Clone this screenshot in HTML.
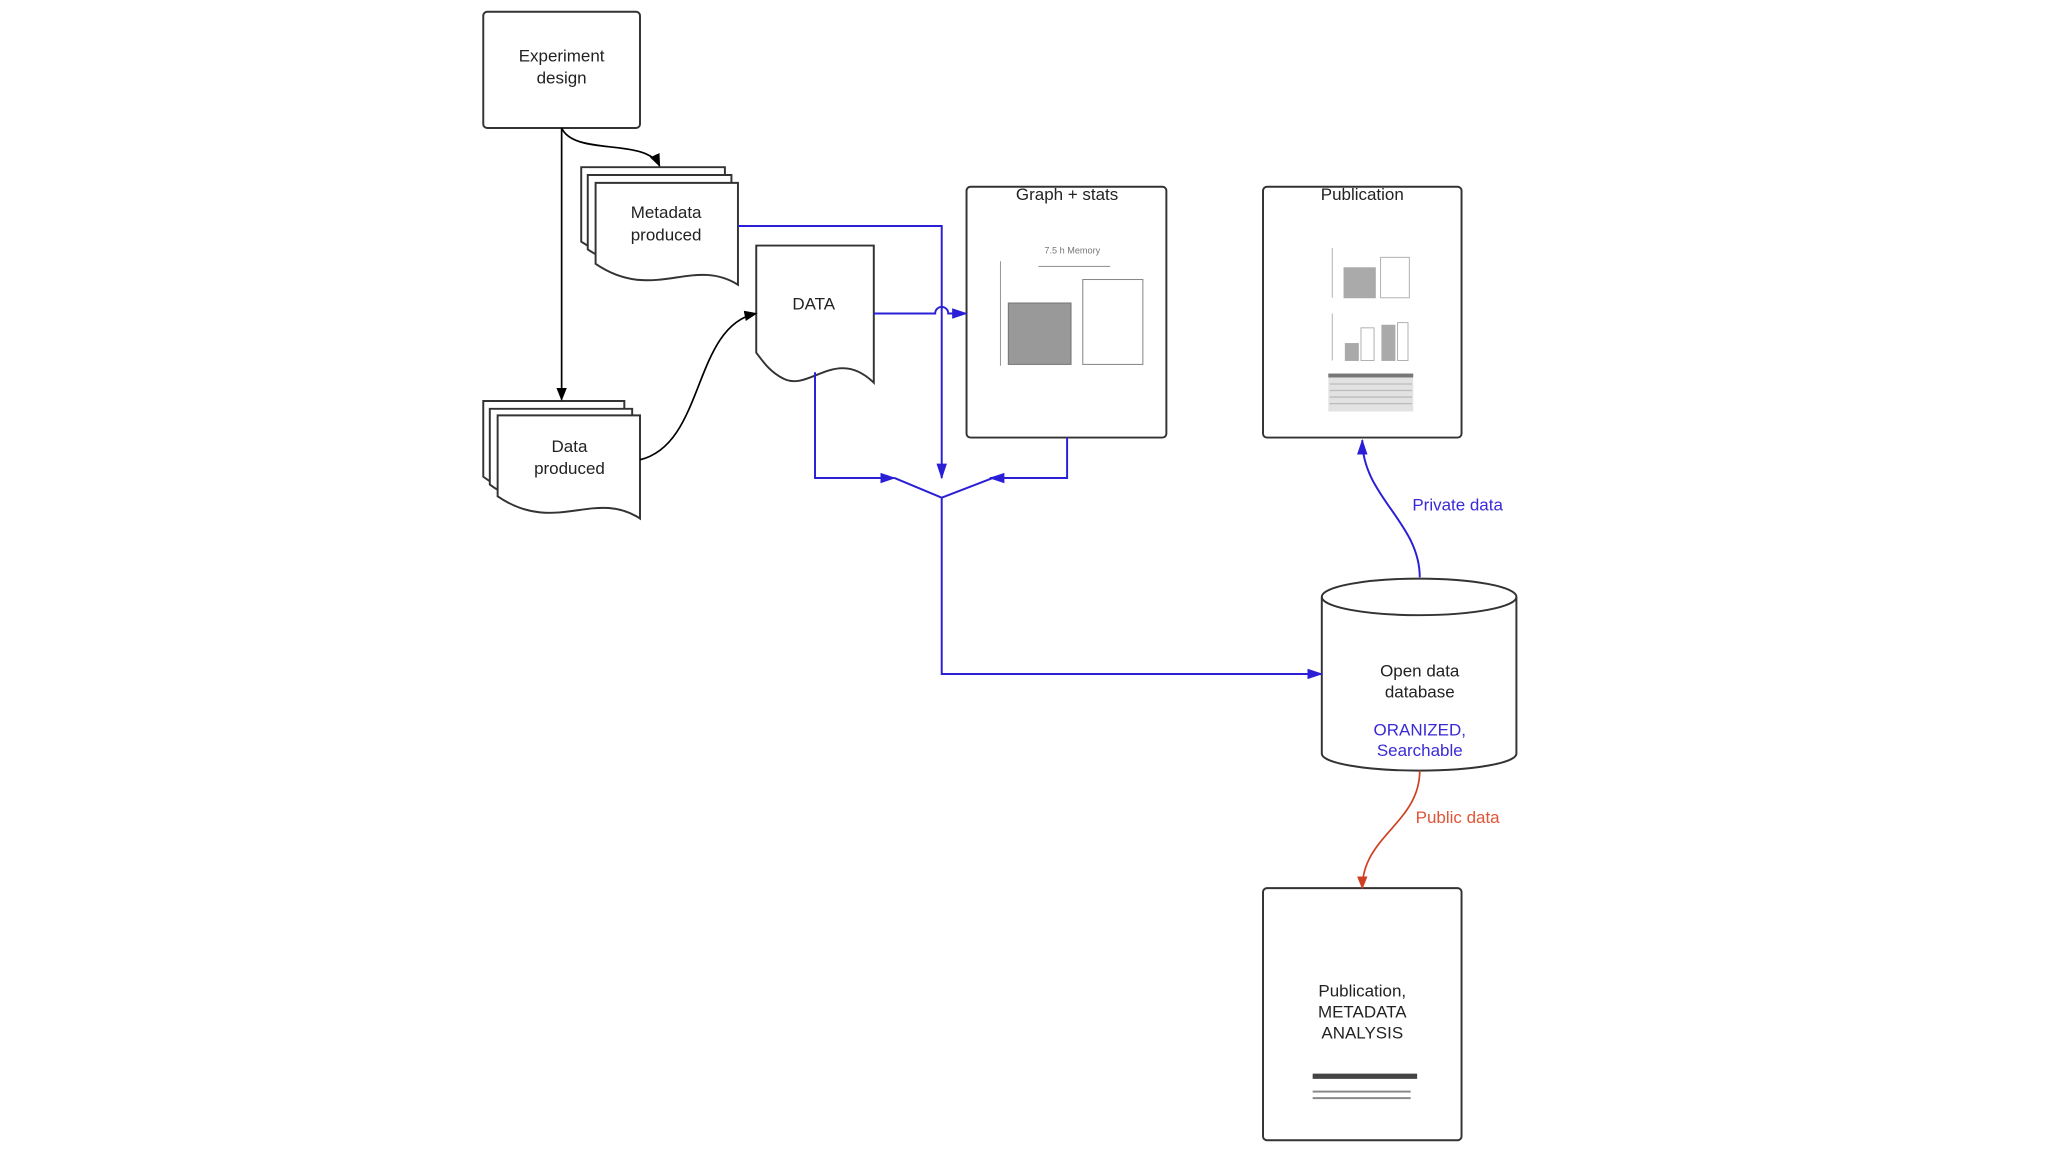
<!DOCTYPE html>
<html><head><meta charset="utf-8"><style>
html,body{margin:0;padding:0;background:#fff;}
svg{display:block;}
text{font-family:"Liberation Sans",sans-serif;}
</style></head><body>
<svg width="2048" height="1152" viewBox="0 0 1568 882" xmlns="http://www.w3.org/2000/svg">
<defs>
<marker id="ak" markerWidth="10" markerHeight="10" refX="9" refY="5" orient="auto" markerUnits="userSpaceOnUse"><path d="M0,1 L10,5 L0,9 Z" fill="#000"/></marker>
<marker id="ab" markerWidth="12" markerHeight="10" refX="11" refY="5" orient="auto" markerUnits="userSpaceOnUse"><path d="M0,1 L12,5 L0,9 Z" fill="#2a1fd6"/></marker>
<marker id="ar" markerWidth="10" markerHeight="10" refX="9" refY="5" orient="auto" markerUnits="userSpaceOnUse"><path d="M0,1 L10,5 L0,9 Z" fill="#d04020"/></marker>
</defs>
<g fill="#fff" stroke="#333" stroke-width="1.5">
<rect x="370" y="9" width="120" height="89" rx="3"/>
<path d="M445,128 H555 V198 C520,180 490,215 445,185 Z"/>
<path d="M450,134 H560 V204 C525,186 495,221 450,191 Z"/>
<path d="M456,140 H565 V218 C530,196 500,232 456,202 Z"/>
<path d="M370,307 H478 V377 C445,360 410,395 370,365 Z"/>
<path d="M375,313 H484 V383 C450,366 415,401 375,371 Z"/>
<path d="M381,318 H490 V397 C455,374 425,410 381,380 Z"/>
<path d="M579,188 H669 V293 C640,265 620,300 600,290 C590,285 585,278 579,270 Z"/>
<rect x="740" y="143" width="153" height="192" rx="3"/>
<rect x="967" y="143" width="152" height="192" rx="3"/>
<rect x="967" y="680" width="152" height="193" rx="3"/>
<path d="M1012,457 V577 A74.5,13 0 0 0 1161,577 V457"/>
<ellipse cx="1086.5" cy="457" rx="74.5" ry="14"/>
</g>
<g stroke="#999" stroke-width="0.8" fill="none">
<line x1="766" y1="200" x2="766" y2="280"/>
<line x1="795" y1="204" x2="850" y2="204"/>
</g>
<rect x="772" y="232" width="48" height="47" fill="#999" stroke="#777" stroke-width="0.8"/>
<rect x="829" y="214" width="46" height="65" fill="#fff" stroke="#888" stroke-width="0.8"/>
<text x="821" y="194" font-size="7" fill="#777" text-anchor="middle">7.5 h Memory</text>
<g stroke="#aaa" stroke-width="0.7" fill="#fff">
<line x1="1020" y1="190" x2="1020" y2="228"/>
<rect x="1029" y="205" width="24" height="23" fill="#aaa"/>
<rect x="1057" y="197" width="22" height="31"/>
<line x1="1020" y1="240" x2="1020" y2="276"/>
<rect x="1030" y="263" width="10" height="13" fill="#aaa"/>
<rect x="1042" y="251" width="10" height="25"/>
<rect x="1058" y="249" width="10" height="27" fill="#aaa"/>
<rect x="1070" y="247" width="8" height="29"/>
</g>
<rect x="1017" y="286" width="65" height="29" fill="#e2e2e2"/>
<rect x="1017" y="286" width="65" height="3" fill="#777"/>
<g stroke="#bbb" stroke-width="1">
<line x1="1018" y1="294" x2="1081" y2="294"/>
<line x1="1018" y1="299" x2="1081" y2="299"/>
<line x1="1018" y1="304" x2="1081" y2="304"/>
<line x1="1018" y1="309" x2="1081" y2="309"/>
</g>
<rect x="1005" y="822" width="80" height="4" fill="#444"/>
<rect x="1005" y="835" width="75" height="1.5" fill="#888"/>
<rect x="1005" y="840" width="75" height="1.5" fill="#888"/>
<g stroke="#000" stroke-width="1.3" fill="none">
<line x1="430" y1="98" x2="430" y2="306" marker-end="url(#ak)"/>
<path d="M430,98 C440,120 495,105 505,127" marker-end="url(#ak)"/>
<path d="M490,352 C540,340 530,250 579,240" marker-end="url(#ak)"/>
</g>
<g stroke="#2a1fd6" stroke-width="1.5" fill="none">
<path d="M565,173 H721 V366" marker-end="url(#ab)"/>
<path d="M669,240 H716 A5,5 0 0 1 726,240 H740" marker-end="url(#ab)"/>
<path d="M624,285 V366 H685" marker-end="url(#ab)"/>
<path d="M817,335 V366 H758" marker-end="url(#ab)"/>
<path d="M685,366 L721,381 L760,366"/>
<path d="M721,381 V516 H1012" marker-end="url(#ab)"/>
<path d="M1087,442 C1087,400 1043,380 1043,337" marker-end="url(#ab)"/>
</g>
<path d="M1087,590 C1087,630 1043,640 1043,680" stroke="#d04020" stroke-width="1.3" fill="none" marker-end="url(#ar)"/>
<g font-size="13" fill="#222" text-anchor="middle">
<text x="430" y="47">Experiment</text><text x="430" y="64">design</text>
<text x="510" y="167">Metadata</text><text x="510" y="184">produced</text>
<text x="436" y="346">Data</text><text x="436" y="363">produced</text>
<text x="623" y="237">DATA</text>
<text x="817" y="153">Graph + stats</text>
<text x="1043" y="153">Publication</text>
<text x="1087" y="518">Open data</text><text x="1087" y="534">database</text>
<text x="1043" y="763">Publication,</text><text x="1043" y="779">METADATA</text><text x="1043" y="795">ANALYSIS</text>
</g>
<g font-size="13" fill="#3a2ad6" text-anchor="middle">
<text x="1087" y="563">ORANIZED,</text><text x="1087" y="579">Searchable</text>
<text x="1116" y="391">Private data</text>
</g>
<text x="1116" y="630" font-size="13" fill="#e05535" text-anchor="middle">Public data</text>
</svg>
</body></html>
